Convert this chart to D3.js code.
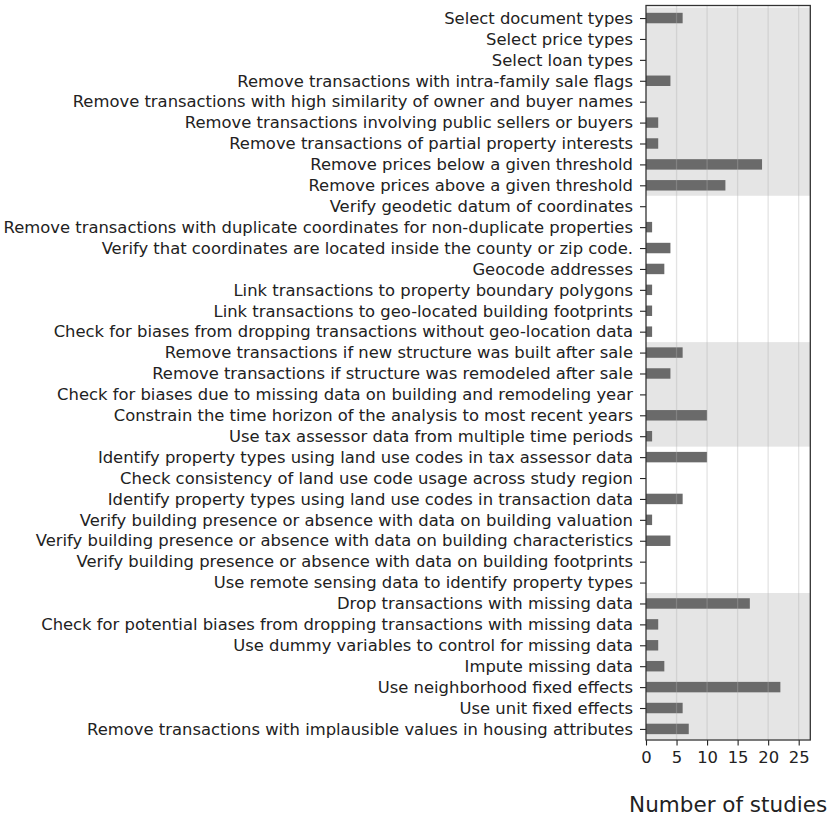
<!DOCTYPE html>
<html>
<head>
<meta charset="utf-8">
<script src="https://cdn.jsdelivr.net/npm/d3@7"></script>
<style>
  html, body { margin: 0; padding: 0; background: #fff; }
  svg { display: block; }
  text { font-family: "DejaVu Sans", sans-serif; fill: #222; }
</style>
</head>
<body>
<svg id="chart" width="830" height="815"></svg>
<script>
// Data-cleaning steps, top to bottom
const steps = [
  "Select document types",
  "Select price types",
  "Select loan types",
  "Remove transactions with intra-family sale flags",
  "Remove transactions with high similarity of owner and buyer names",
  "Remove transactions involving public sellers or buyers",
  "Remove transactions of partial property interests",
  "Remove prices below a given threshold",
  "Remove prices above a given threshold",
  "Verify geodetic datum of coordinates",
  "Remove transactions with duplicate coordinates for non-duplicate properties",
  "Verify that coordinates are located inside the county or zip code.",
  "Geocode addresses",
  "Link transactions to property boundary polygons",
  "Link transactions to geo-located building footprints",
  "Check for biases from dropping transactions without geo-location data",
  "Remove transactions if new structure was built after sale",
  "Remove transactions if structure was remodeled after sale",
  "Check for biases due to missing data on building and remodeling year",
  "Constrain the time horizon of the analysis to most recent years",
  "Use tax assessor data from multiple time periods",
  "Identify property types using land use codes in tax assessor data",
  "Check consistency of land use code usage across study region",
  "Identify property types using land use codes in transaction data",
  "Verify building presence or absence with data on building valuation",
  "Verify building presence or absence with data on building characteristics",
  "Verify building presence or absence with data on building footprints",
  "Use remote sensing data to identify property types",
  "Drop transactions with missing data",
  "Check for potential biases from dropping transactions with missing data",
  "Use dummy variables to control for missing data",
  "Impute missing data",
  "Use neighborhood fixed effects",
  "Use unit fixed effects",
  "Remove transactions with implausible values in housing attributes"
];

// Number of studies applying each step
const studies = [
  6, 0, 0, 4, 0, 2, 2, 19, 13,
  0, 1, 4, 3, 1, 1, 1,
  6, 4, 0, 10, 1,
  10, 0, 6, 1, 4, 0, 0,
  17, 2, 2, 3, 22, 6, 7
];

// Groups of steps: [first index, last index], alternately shaded
const groups = [[0, 8], [9, 15], [16, 20], [21, 27], [28, 34]];
const groupShaded = [true, false, true, false, true];

const xTicks = [0, 5, 10, 15, 20, 25];
const xLabel = "Number of studies";

const svg = d3.select("#chart");
const plot = { left: 646, right: 810.3, top: 5.5, bottom: 740 };
const tickFont = "16.4px";

const x = d3.scaleLinear().domain([0, 26.9]).range([plot.left, plot.right]);
const y = d3.scaleLinear().domain([-0.6, 34.53]).range([plot.top, plot.bottom]);
const barH = 0.5;

// shaded group bands
svg.append("g").selectAll("rect")
  .data(groups.filter((g, i) => groupShaded[i]))
  .join("rect")
  .attr("x", plot.left)
  .attr("width", plot.right - plot.left)
  .attr("y", d => Math.max(plot.top, y(d[0] - 0.5)))
  .attr("height", d => Math.min(plot.bottom, y(d[1] + 0.5)) - Math.max(plot.top, y(d[0] - 0.5)))
  .attr("fill", "#e5e5e5");

// bars
svg.append("g").selectAll("rect")
  .data(studies)
  .join("rect")
  .attr("x", x(0))
  .attr("y", (d, i) => y(i - barH / 2))
  .attr("width", d => x(d) - x(0))
  .attr("height", y(barH) - y(0))
  .attr("fill", "#6a6a6a");

// vertical grid lines
svg.append("g").selectAll("line")
  .data(xTicks.filter(t => t > 0))
  .join("line")
  .attr("x1", d => x(d)).attr("x2", d => x(d))
  .attr("y1", plot.top).attr("y2", plot.bottom)
  .attr("stroke", "#b0b0b0")
  .attr("stroke-opacity", 0.35)
  .attr("stroke-width", 1.3);

// x axis
const xAxis = d3.axisBottom(x).tickValues(xTicks).tickSize(5.5).tickPadding(6);
const gx = svg.append("g")
  .attr("transform", `translate(0,${plot.bottom})`)
  .call(xAxis);
gx.select(".domain").remove();
gx.selectAll("line").attr("stroke", "#222").attr("stroke-width", 1.1);
gx.selectAll("text")
  .style("font-family", "DejaVu Sans, sans-serif")
  .style("font-size", tickFont)
  .attr("fill", "#222");

// y axis with step names
const yAxis = d3.axisLeft(y)
  .tickValues(d3.range(steps.length))
  .tickFormat(i => steps[i])
  .tickSize(6)
  .tickPadding(7);
const gy = svg.append("g")
  .attr("transform", `translate(${plot.left},0)`)
  .call(yAxis);
gy.select(".domain").remove();
gy.selectAll("line").attr("stroke", "#222").attr("stroke-width", 1.1);
gy.selectAll("text")
  .style("font-family", "DejaVu Sans, sans-serif")
  .style("font-size", tickFont)
  .attr("fill", "#222");

// frame
svg.append("rect")
  .attr("x", plot.left).attr("y", plot.top)
  .attr("width", plot.right - plot.left)
  .attr("height", plot.bottom - plot.top)
  .attr("fill", "none")
  .attr("stroke", "#333")
  .attr("stroke-width", 1.3);

// axis title
svg.append("text")
  .attr("x", (plot.left + plot.right) / 2)
  .attr("y", 811.5)
  .attr("text-anchor", "middle")
  .style("font-size", "21.5px")
  .text(xLabel);
</script>
</body>
</html>
